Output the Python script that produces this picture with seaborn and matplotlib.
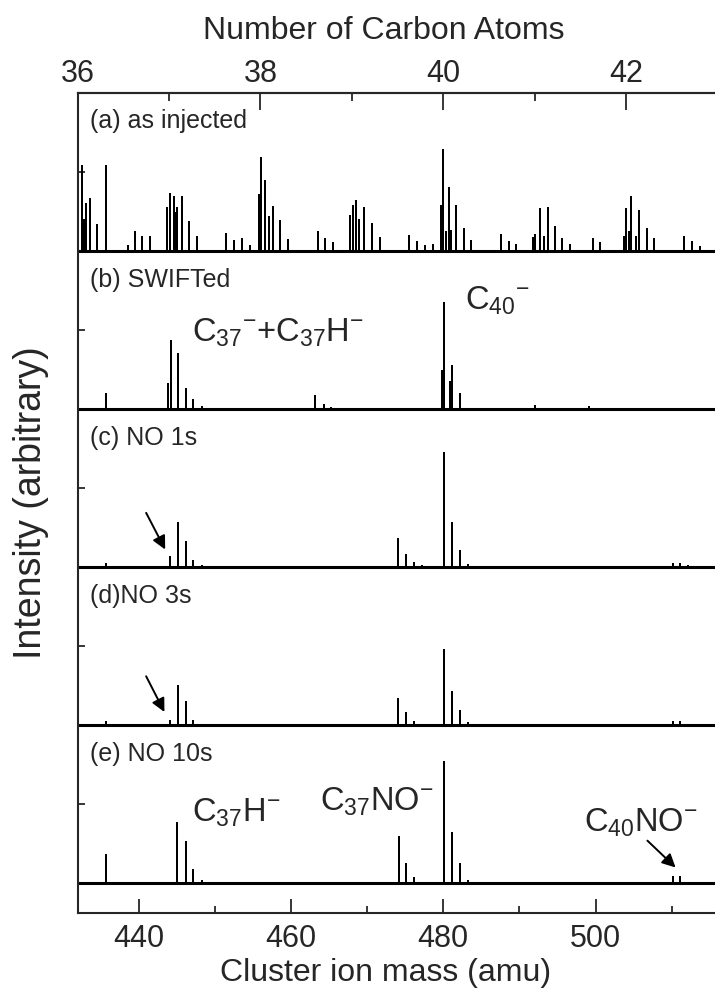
import numpy as np
import pandas as pd
import matplotlib
matplotlib.use("Agg")
import matplotlib.pyplot as plt
import seaborn as sns

# peak positions (amu) and heights (fraction of panel height)
mass_a = [432.1, 432.62, 432.84, 433.06, 433.63, 434.6, 435.73, 438.67, 439.55, 440.5,
          441.5, 443.8, 444.14, 444.67, 444.89, 445.1, 445.68, 446.64, 447.65, 451.5,
          452.5, 453.56, 454.6, 455.75, 456.06, 456.63, 457.07, 457.63, 458.6, 459.6,
          463.5, 464.5, 465.5, 467.7, 468.1, 468.5, 468.98, 469.6, 470.6, 471.65,
          475.55, 476.56, 477.57, 478.62, 479.71, 479.97, 480.37, 480.72, 481.03, 481.68,
          482.69, 483.65, 487.6, 488.6, 489.6, 491.75, 492.0, 492.7, 493.2, 493.7,
          494.65, 495.65, 496.6, 499.6, 500.6, 503.7, 504.0, 504.4, 504.7, 505.3,
          505.7, 506.7, 507.7, 511.6, 512.6, 513.7]
height_a = [0.69, 0.54, 0.196, 0.295, 0.33, 0.165, 0.54, 0.03, 0.12, 0.087,
            0.087, 0.27, 0.36, 0.34, 0.24, 0.27, 0.34, 0.186, 0.087, 0.108,
            0.065, 0.074, 0.03, 0.354, 0.587, 0.443, 0.217, 0.28, 0.19, 0.07,
            0.12, 0.076, 0.053, 0.22, 0.287, 0.316, 0.196, 0.274, 0.171, 0.08,
            0.095, 0.055, 0.034, 0.038, 0.285, 0.64, 0.122, 0.40, 0.127, 0.285,
            0.143, 0.065, 0.10, 0.055, 0.038, 0.08, 0.105, 0.266, 0.09, 0.274,
            0.154, 0.076, 0.038, 0.076, 0.049, 0.09, 0.266, 0.118, 0.344, 0.09,
            0.253, 0.143, 0.076, 0.09, 0.055, 0.023]

mass_b = [435.7, 443.9, 444.2, 445.2, 446.2, 447.2, 448.3, 463.2, 464.3, 465.2,
          479.9, 480.15, 480.94, 481.2, 482.2, 492.1, 499.1]
height_b = [0.095, 0.16, 0.43, 0.35, 0.127, 0.057, 0.012, 0.085, 0.025, 0.01,
            0.24, 0.67, 0.17, 0.27, 0.095, 0.02, 0.015]

mass_c = [435.7, 444.1, 445.2, 446.2, 447.2, 448.3, 474.1, 475.1, 476.1, 477.2,
          480.1, 481.1, 482.2, 483.2, 510.1, 511.1, 512.1]
height_c = [0.023, 0.065, 0.277, 0.158, 0.042, 0.008, 0.18, 0.08, 0.025, 0.008,
            0.72, 0.28, 0.10, 0.017, 0.02, 0.02, 0.008]

mass_d = [435.7, 444.1, 445.2, 446.2, 447.2, 474.1, 475.1, 476.1,
          480.1, 481.1, 482.2, 483.2, 510.1, 511.1]
height_d = [0.02, 0.03, 0.25, 0.146, 0.03, 0.165, 0.078, 0.02,
            0.475, 0.21, 0.09, 0.015, 0.02, 0.02]

mass_e = [435.7, 445.1, 446.2, 447.2, 448.3, 474.2, 475.1, 476.1,
          480.1, 481.2, 482.2, 483.2, 510.1, 511.1]
height_e = [0.18, 0.38, 0.26, 0.085, 0.015, 0.29, 0.12, 0.036,
            0.766, 0.32, 0.12, 0.015, 0.04, 0.04]

panel_labels = ["(a) as injected", "(b) SWIFTed", "(c) NO 1s", "(d)NO 3s", "(e) NO 10s"]
mass_range = [432, 516]

panels = [(mass_a, height_a), (mass_b, height_b), (mass_c, height_c),
          (mass_d, height_d), (mass_e, height_e)]

# build one stick trace per panel, stacked with offsets
rows = []
base_rows = []
for i, (ms, hs) in enumerate(panels):
    off = len(panels) - 1 - i
    order = 0
    rows.append((i, order, mass_range[0], off))
    for m, h in sorted(zip(ms, hs)):
        for y in (off, off + h, off):
            order += 1
            rows.append((i, order, m, y))
    rows.append((i, order + 1, mass_range[1], off))
    base_rows += [(i, mass_range[0], off), (i, mass_range[1], off)]
df = pd.DataFrame(rows, columns=["panel", "order", "mass", "signal"])
base = pd.DataFrame(base_rows, columns=["panel", "mass", "signal"])

sns.set_style("ticks")
plt.rcParams["font.family"] = ["Liberation Sans", "DejaVu Sans"]
plt.rcParams["mathtext.fontset"] = "custom"
plt.rcParams["mathtext.rm"] = "Liberation Sans"
plt.rcParams["mathtext.it"] = "Liberation Sans"
plt.rcParams["mathtext.bf"] = "Liberation Sans:bold"
plt.rcParams["axes.linewidth"] = 1.5

fig = plt.figure(figsize=(7.15, 9.92), dpi=100)
ax = fig.add_axes([0.1085, 0.0796, 0.895, 0.8266])

sns.lineplot(data=base, x="mass", y="signal", units="panel", estimator=None,
             color="black", lw=2.2, ax=ax, legend=False)
sns.lineplot(data=df, x="mass", y="signal", units="panel", estimator=None,
             sort=False, color="black", lw=1.4, ax=ax, legend=False)

ax.set_xlim(mass_range)
ax.set_ylim(-0.188, 5.0)
ax.spines["right"].set_visible(False)

ax.set_xticks([440, 460, 480, 500])
ax.set_xticks([450, 470, 490, 510], minor=True)
ax.tick_params(axis="x", which="both", direction="in", top=False, labelsize=22, pad=8)
ax.tick_params(axis="x", which="major", length=10, width=1.3)
ax.tick_params(axis="x", which="minor", length=5, width=1.3)

ax.set_yticks([k + 0.5 for k in range(5)])
ax.set_yticklabels([])
ax.tick_params(axis="y", direction="in", length=5, width=1.3)

ax.set_xlabel("Cluster ion mass (amu)", fontsize=23, labelpad=3)
ax.xaxis.label.set_x(0.482)
ax.set_ylabel("Intensity (arbitrary)", fontsize=27, labelpad=17)

secax = ax.secondary_xaxis("top", functions=(lambda m: m / 12.0, lambda n: n * 12.0))
secax.set_xticks([36, 38, 40, 42])
secax.set_xticks([37, 39, 41, 43], minor=True)
secax.tick_params(which="both", direction="in", labelsize=22, pad=3)
secax.tick_params(which="major", length=12, width=1.3)
secax.tick_params(which="minor", length=6, width=1.3)
secax.set_xlabel("Number of Carbon Atoms", fontsize=23, labelpad=14)
secax.xaxis.label.set_x(0.478)

for i, lab in enumerate(panel_labels):
    off = len(panels) - 1 - i
    ax.text(433.6, off + 0.82, lab, fontsize=18, ha="left", va="center")

ann = 23.5
ax.text(447.0, 3.43, r"C$_{37}$$^{-}$+C$_{37}$H$^{-}$", fontsize=ann, ha="left", va="baseline")
ax.text(482.9, 3.63, r"C$_{40}$$^{-}$", fontsize=ann, ha="left", va="baseline")
ax.text(447.0, 0.39, r"C$_{37}$H$^{-}$", fontsize=ann, ha="left", va="baseline")
ax.text(463.8, 0.46, r"C$_{37}$NO$^{-}$", fontsize=ann, ha="left", va="baseline")
ax.text(498.5, 0.33, r"C$_{40}$NO$^{-}$", fontsize=ann, ha="left", va="baseline")

arrow = dict(arrowstyle="-|>", color="black", lw=1.4, mutation_scale=20, shrinkA=0, shrinkB=0)
ax.annotate("", xy=(443.5, 2.112), xytext=(441.0, 2.344), arrowprops=arrow)
ax.annotate("", xy=(443.4, 1.084), xytext=(441.0, 1.31), arrowprops=arrow)
ax.annotate("", xy=(510.5, 0.10), xytext=(506.8, 0.27), arrowprops=arrow)

fig.savefig("out.png", dpi=100)
